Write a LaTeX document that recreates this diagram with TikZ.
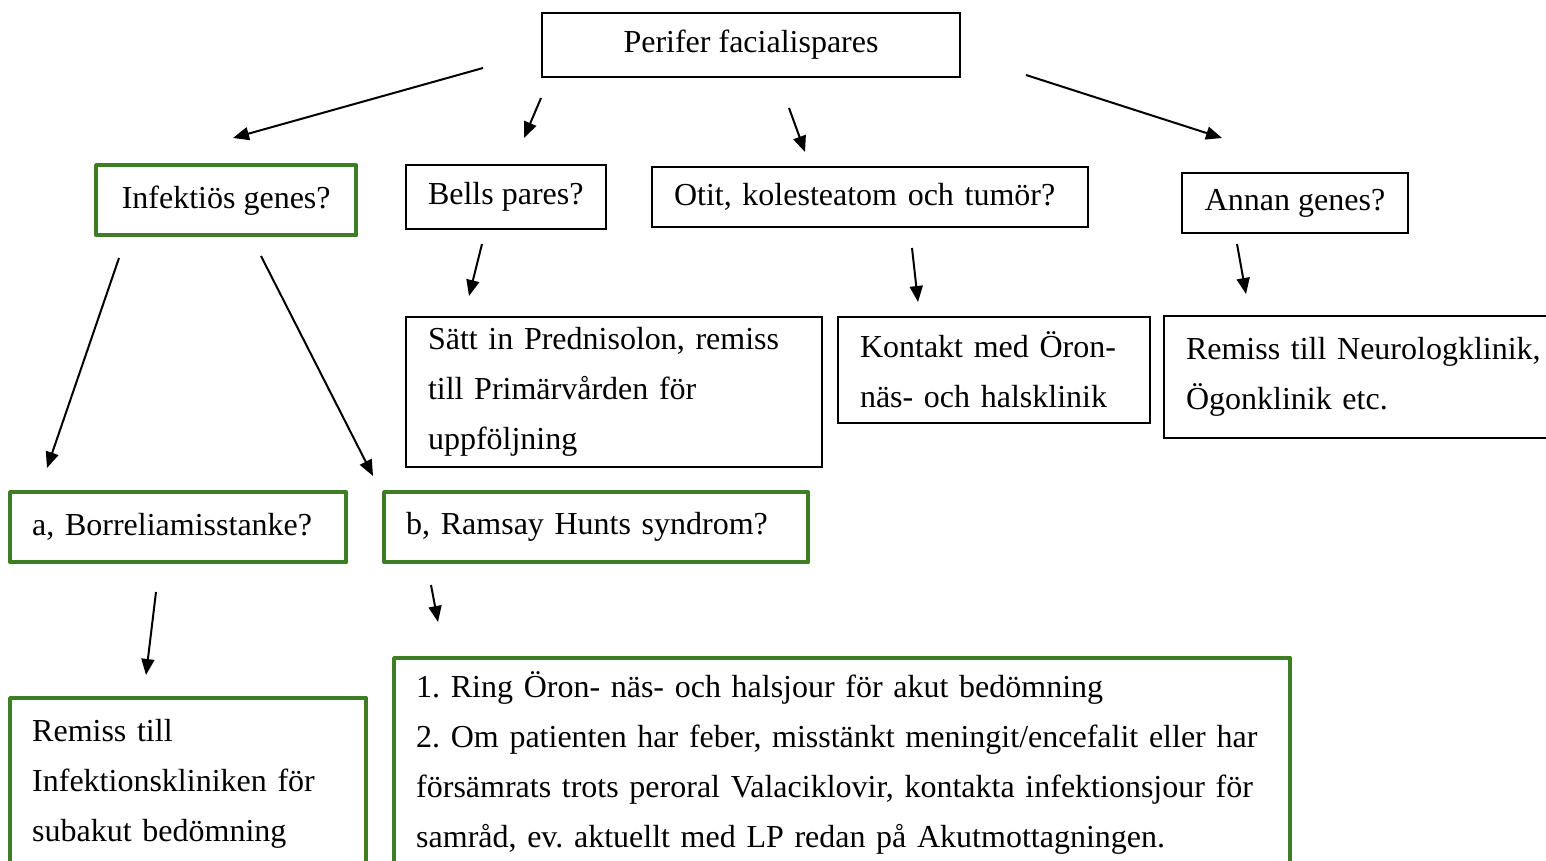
\documentclass[tikz,border=0pt]{standalone}
\usepackage{fontspec}
\setmainfont{Liberation Serif}
\usetikzlibrary{arrows.meta}
\definecolor{boxgreen}{RGB}{62,125,36}
\frenchspacing

\begin{document}
\begin{tikzpicture}[x=0.5pt,y=-0.5pt,
          every node/.style={anchor=north west,inner xsep=11pt,inner ysep=0pt,align=left,
            font=\fontsize{16pt}{25pt}\selectfont},
          blackbox/.style={draw,line width=1pt},
          greenbox/.style={draw=boxgreen,line width=2.2pt,line join=round},
          >={Triangle[length=8pt,width=6.5pt]}]
          \useasboundingbox (0,0) rectangle (1546,861);
          % first row
          \node[blackbox,minimum width=209pt,minimum height=32pt,align=center](top)at(541,12){Perifer facialispares};
          % second row
          \node[greenbox,minimum width=130pt,minimum height=35pt,align=center](inf)at(94,163){Infektiös genes?};
          \node[blackbox,minimum width=99pt,minimum height=32pt,align=center](bells)at(405,164){Bells pares?};
          \node[blackbox,text width=196pt,minimum height=30pt](otit)at(651,166){Otit, kolesteatom och tumör?};
          \node[blackbox,minimum width=113pt,minimum height=30pt,align=center](annan)at(1181,172){Annan genes?};
          % third row
          \node[blackbox,text width=186pt,minimum height=75pt](pred)at(405,316)
            {Sätt in Prednisolon, remiss\\till Primärvården för\\uppföljning};
          \node[blackbox,text width=134pt,minimum height=53pt](oron)at(837,316)
            {Kontakt med Öron-\\näs- och halsklinik};
          \node[blackbox,text width=188pt,minimum height=61pt](neuro)at(1163,315)
            {Remiss till Neurologklinik,\\Ögonklinik etc.};
          % fourth row
          \node[greenbox,text width=146pt,minimum height=35pt](borr)at(8,490){a, Borreliamisstanke?};
          \node[greenbox,text width=190pt,minimum height=35pt](ramsay)at(382,490){b, Ramsay Hunts syndrom?};
          % fifth row
          \node[greenbox,text width=156pt,minimum height=86pt](infklin)at(8,696)
            {Remiss till\\Infektionskliniken för\\subakut bedömning};
          \node[greenbox,text width=426pt,minimum height=105pt](jour)at(392,656)
            {1. Ring Öron- näs- och halsjour för akut bedömning\\
             2. Om patienten har feber, misstänkt meningit/encefalit eller har\\
             försämrats trots peroral Valaciklovir, kontakta infektionsjour för\\
             samråd, ev. aktuellt med LP redan på Akutmottagningen.};
          % arrows
          \coordinate(s1)at(483,68);   \coordinate(e1)at(233,138);
          \coordinate(s2)at(541,98);   \coordinate(e2)at(524,138);
          \coordinate(s3)at(789,108);  \coordinate(e3)at(805,152);
          \coordinate(s4)at(1026,75);  \coordinate(e4)at(1222,138);
          \coordinate(s5)at(119,258);  \coordinate(e5)at(47,468);
          \coordinate(s6)at(261,256);  \coordinate(e6)at(373,476);
          \coordinate(s7)at(482,244);  \coordinate(e7)at(469,296);
          \coordinate(s8)at(912,248);  \coordinate(e8)at(918,302);
          \coordinate(s9)at(1237,244); \coordinate(e9)at(1246,294);
          \coordinate(s10)at(156,592); \coordinate(e10)at(146,675);
          \coordinate(s11)at(431,585); \coordinate(e11)at(438,622);
          \foreach \i in {1,...,11}
            {\draw[->,line width=1pt](s\i)--(e\i);}
        \end{tikzpicture}
\end{document}
